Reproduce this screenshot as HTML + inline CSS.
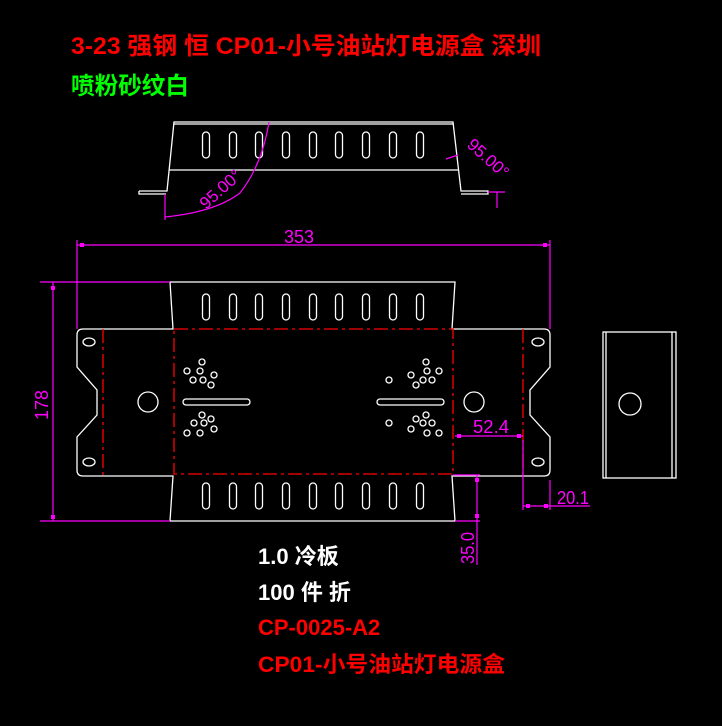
<!DOCTYPE html>
<html><head><meta charset="utf-8"><style>
html,body{margin:0;padding:0;background:#000;width:722px;height:726px;overflow:hidden}
svg{display:block}
.t{font-family:"Liberation Sans","Noto Sans CJK SC",sans-serif;font-weight:bold}
</style></head><body>
<svg width="722" height="726" viewBox="0 0 722 726" xmlns="http://www.w3.org/2000/svg">
<rect width="722" height="726" fill="#000"/>
<text class="t" x="71" y="54" font-size="24" fill="#ff0000" textLength="470" lengthAdjust="spacingAndGlyphs">3-23 强钢  恒 CP01-小号油站灯电源盒  深圳</text>
<text class="t" x="71" y="94" font-size="24" fill="#00ff00" textLength="118" lengthAdjust="spacingAndGlyphs">喷粉砂纹白</text>

<g fill="none" stroke="#fff" stroke-width="1.3">
<path d="M139,191 H167 L174,122 H453 L461,191 H488 V194 H461 M139,191 V194 H166"/>
<path d="M174,124 H453 M169,170 H458"/>
<g id="slots1">
<rect x="202.5" y="132" width="7" height="26" rx="3.5"/><rect x="229.5" y="132" width="7" height="26" rx="3.5"/><rect x="255.5" y="132" width="7" height="26" rx="3.5"/><rect x="282.5" y="132" width="7" height="26" rx="3.5"/><rect x="309.5" y="132" width="7" height="26" rx="3.5"/><rect x="335.5" y="132" width="7" height="26" rx="3.5"/><rect x="362.5" y="132" width="7" height="26" rx="3.5"/><rect x="389.5" y="132" width="7" height="26" rx="3.5"/><rect x="416.5" y="132" width="7" height="26" rx="3.5"/>
</g>
<path d="M170,282 H455 L452,329 H544 Q550,329 550,335 V367 L530,390 V415 L550,437 V470 Q550,476 544,476 H452 L455,521 H170 L173,476 H83 Q77,476 77,470 V437 L97,415 V390 L77,367 V335 Q77,329 83,329 H173 Z"/>
<use href="#slots1" transform="translate(0,162)"/>
<use href="#slots1" transform="translate(0,351)"/>
<ellipse cx="89" cy="342" rx="6" ry="4"/><ellipse cx="89" cy="462" rx="6" ry="4"/>
<ellipse cx="538" cy="342" rx="6" ry="4"/><ellipse cx="538" cy="462" rx="6" ry="4"/>
<circle cx="148" cy="402" r="10"/><circle cx="474" cy="402" r="10"/>
<rect x="183" y="399" width="67" height="6" rx="3"/><rect x="377" y="399" width="67" height="6" rx="3"/>
<g>
<circle cx="202" cy="362" r="3"/><circle cx="187" cy="371" r="3"/><circle cx="200" cy="371" r="3"/><circle cx="214" cy="375" r="3"/><circle cx="193" cy="380" r="3"/><circle cx="203" cy="380" r="3"/><circle cx="211" cy="385" r="3"/>
<circle cx="202" cy="415" r="3"/><circle cx="194" cy="423" r="3"/><circle cx="204" cy="423" r="3"/><circle cx="211" cy="419" r="3"/><circle cx="214" cy="429" r="3"/><circle cx="187" cy="433" r="3"/><circle cx="200" cy="433" r="3"/>
<circle cx="426" cy="362" r="3"/><circle cx="411" cy="375" r="3"/><circle cx="427" cy="371" r="3"/><circle cx="439" cy="371" r="3"/><circle cx="423" cy="380" r="3"/><circle cx="432" cy="380" r="3"/><circle cx="416" cy="385" r="3"/><circle cx="389" cy="380" r="3"/>
<circle cx="389" cy="423" r="3"/><circle cx="426" cy="415" r="3"/><circle cx="416" cy="419" r="3"/><circle cx="423" cy="423" r="3"/><circle cx="432" cy="423" r="3"/><circle cx="411" cy="429" r="3"/><circle cx="427" cy="433" r="3"/><circle cx="439" cy="433" r="3"/>
</g>
<rect x="603" y="332" width="73" height="146"/>
<path d="M606,332 V478 M672,332 V478"/>
<circle cx="630" cy="404" r="11"/>
</g>
<g fill="none" stroke="#ff0000" stroke-width="1.3" stroke-dasharray="14,4,3,4">
<path d="M174,329 H453 V474 H174 Z"/>
<path d="M103,329 V476 M523,329 V476"/>
</g>
<g fill="none" stroke="#ff00ff" stroke-width="1.2">
<path d="M165,217 Q215,212 240,193 Q262,165 269,122"/>
<path d="M165,194 V220"/>
<path d="M446,159 L458,155"/>
<path d="M488,192 H505 M497,192 V208"/>
<path d="M77,240 V329 M550,240 V329 M77,245 H550"/>
<path d="M40,282 H170 M40,521 H170 M53,282 V521"/>
<path d="M455,436 H523"/>
<path d="M523,440 V510 M550,480 V510 M523,506 H590"/>
<path d="M453,475 H480 M455,521 H480 M477,475 V565"/>
</g>
<g fill="#ff00ff">
<rect x="80" y="243" width="4" height="4"/><rect x="543" y="243" width="4" height="4"/>
<rect x="51" y="286" width="4" height="4"/><rect x="51" y="515" width="4" height="4"/>
<rect x="457" y="434" width="4" height="4"/><rect x="517" y="434" width="4" height="4"/>
<rect x="526" y="504" width="4" height="4"/><rect x="544" y="504" width="4" height="4"/>
<rect x="475" y="478" width="4" height="4"/><rect x="475" y="514" width="4" height="4"/>
</g>
<g font-family="Liberation Sans,sans-serif" fill="#ff00ff" font-size="18">
<text x="284" y="243" textLength="30" lengthAdjust="spacingAndGlyphs">353</text>
<text x="473" y="433" textLength="36" lengthAdjust="spacingAndGlyphs">52.4</text>
<text x="557" y="504" textLength="32" lengthAdjust="spacingAndGlyphs">20.1</text>
<text transform="translate(48,420) rotate(-90)" textLength="30" lengthAdjust="spacingAndGlyphs">178</text>
<text transform="translate(474,564) rotate(-90)" textLength="32" lengthAdjust="spacingAndGlyphs">35.0</text>
<text transform="translate(206,210) rotate(-42)" font-size="17">95.00°</text>
<text transform="translate(466,146) rotate(42)" font-size="17">95.00°</text>
</g>
<text class="t" x="258" y="564" font-size="22" fill="#fff">1.0 冷板</text>
<text class="t" x="258" y="600" font-size="22" fill="#fff">100 件 折</text>
<text class="t" x="258" y="635" font-size="22" fill="#ff0000">CP-0025-A2</text>
<text class="t" x="258" y="672" font-size="22" fill="#ff0000" textLength="247" lengthAdjust="spacingAndGlyphs">CP01-小号油站灯电源盒</text>
</svg>
</body></html>
